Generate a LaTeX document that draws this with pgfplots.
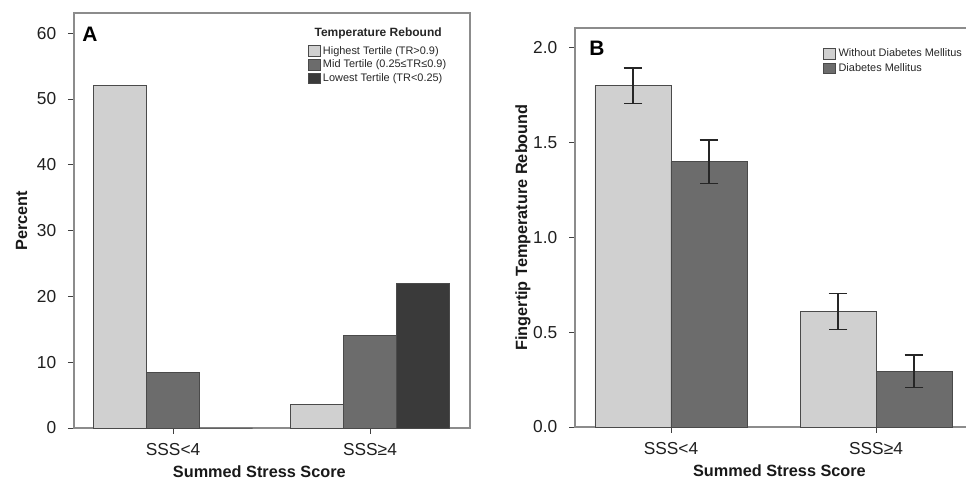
\documentclass[border=0pt]{standalone}
\usepackage{pgfplots}
\pgfplotsset{compat=1.18}
\usepackage{fontspec}
\setmainfont{Liberation Sans}
\setsansfont{Liberation Sans}
\definecolor{barlight}{HTML}{D0D0D0}
\definecolor{barmid}{HTML}{6C6C6C}
\definecolor{bardark}{HTML}{3A3A3A}
\definecolor{bardraw}{HTML}{4A4A4A}
\definecolor{framegray}{HTML}{8C8C8C}
\pgfplotsset{
  panel/.style={
    scale only axis, clip=false,
    axis line style={draw=framegray, line width=0.9pt},
    tick pos=left, tick align=outside, major tick length=4.5pt,
    tick style={draw=black!75, line width=0.7pt},
    xtick={0,1}, xticklabels={SSS<4, SSS≥4},
    ticklabel style={font=\fontsize{13}{15}\selectfont, text=black!88},
    x tick label style={anchor=center, yshift=-11.6pt},
    y tick label style={anchor=east, inner sep=0pt, xshift=-8.6pt},
    /pgf/number format/assume math mode=true,
    label style={font=\bfseries\fontsize{12.2}{14}\selectfont, text=black!90, inner sep=1pt},
    xlabel={Summed Stress Score},
    legend style={draw=none, fill=none, inner sep=0pt,
      font=\fontsize{8.2}{10}\selectfont, text=black!85,
      nodes={inner sep=1.4pt}, row sep=0pt, cells={anchor=west}},
  },
  sq/.style={legend image code/.code={
    \draw[##1, draw=bardraw, line width=0.6pt] (0pt,-4pt) rectangle (9pt,4pt);}},
  errs/.style={error bars/.cd, y dir=both, y explicit,
    error bar style={line width=1.1pt, black!85},
    error mark options={rotate=90, mark size=7pt, line width=1.1pt, black!85}},
}
\begin{document}
\begin{tikzpicture}
\path[use as bounding box] (0,0) rectangle (724.5pt,360.75pt);
% panel A
\begin{axis}[panel,
  at={(55.5pt,39.75pt)}, anchor=south west,
  width=297pt, height=311.25pt,
  ybar=0pt, bar width=39.75pt,
  xmin=-0.503, xmax=1.508, ymin=0, ymax=63.07,
  ytick={0,10,...,60},
  ylabel={Percent},
  ylabel style={at={(axis description cs:-0.1326,0.5)}, anchor=center},
  xlabel style={at={(axis description cs:0.468,-0.106)}, anchor=center},
  legend style={at={(0.591,0.925)}, anchor=north west},
]
\addplot[fill=barlight, draw=bardraw, line width=0.7pt, sq] coordinates {(0,52) (1,3.6)};
\addplot[fill=barmid, draw=bardraw, line width=0.7pt, sq] coordinates {(0,8.5) (1,14)};
\addplot[fill=bardark, draw=bardraw, line width=0.7pt, sq] coordinates {(0,0) (1,22)};
\legend{Highest Tertile (TR>0.9), Mid Tertile (0.25≤TR≤0.9), Lowest Tertile (TR<0.25)}
\node[font=\bfseries\fontsize{9}{10}\selectfont, text=black!85] at (rel axis cs:0.768,0.952) {Temperature Rebound};
\node[font=\bfseries\fontsize{15.7}{16}\selectfont] at (rel axis cs:0.040,0.949) {A};
\end{axis}
% panel B
\begin{axis}[panel,
  at={(431.25pt,40.5pt)}, anchor=south west,
  width=297.75pt, height=299.25pt,
  ybar=0pt, bar width=57pt,
  xmin=-0.468, xmax=1.468, ymin=0, ymax=2.105,
  ytick={0,0.5,...,2},
  yticklabel style={/pgf/number format/.cd, fixed, fixed zerofill, precision=1},
  ylabel={Fingertip Temperature Rebound},
  ylabel style={at={(axis description cs:-0.131,0.5)}, anchor=center},
  xlabel style={at={(axis description cs:0.515,-0.110)}, anchor=center},
  legend style={at={(0.625,0.955)}, anchor=north west, nodes={inner sep=1.8pt}},
]
\addplot[fill=barlight, draw=bardraw, line width=0.7pt, sq, errs] coordinates {(0,1.80) +- (0,0.093) (1,0.61) +- (0,0.095)};
\addplot[fill=barmid, draw=bardraw, line width=0.7pt, sq, errs] coordinates {(0,1.40) +- (0,0.115) (1,0.293) +- (0,0.086)};
\legend{Without Diabetes Mellitus, Diabetes Mellitus}
\node[font=\bfseries\fontsize{15.7}{16}\selectfont] at (rel axis cs:0.055,0.949) {B};
\end{axis}
\end{tikzpicture}
\end{document}
